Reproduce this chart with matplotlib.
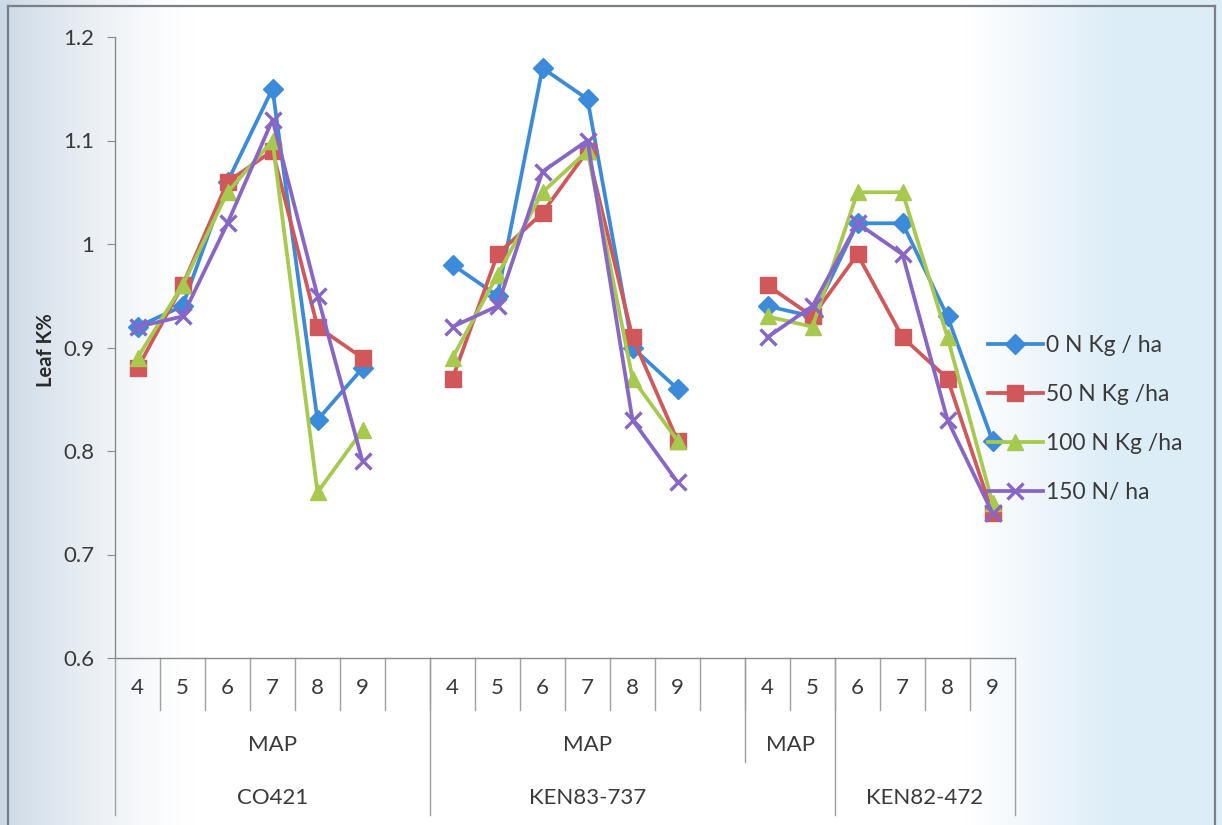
import numpy as np
import matplotlib
matplotlib.use("Agg")
import matplotlib.pyplot as plt
from matplotlib.lines import Line2D
from matplotlib.transforms import blended_transform_factory

plt.rcParams['font.family'] = ['Lato', 'DejaVu Sans']

# ---- data ---------------------------------------------------------------
months = ["4", "5", "6", "7", "8", "9"]
genotypes = ["CO421", "KEN83-737", "KEN82-472"]

n0 = {"CO421": [0.92, 0.94, 1.06, 1.15, 0.83, 0.88],
      "KEN83-737": [0.98, 0.95, 1.17, 1.14, 0.90, 0.86],
      "KEN82-472": [0.94, 0.93, 1.02, 1.02, 0.93, 0.81]}
n50 = {"CO421": [0.88, 0.96, 1.06, 1.09, 0.92, 0.89],
       "KEN83-737": [0.87, 0.99, 1.03, 1.09, 0.91, 0.81],
       "KEN82-472": [0.96, 0.93, 0.99, 0.91, 0.87, 0.74]}
n100 = {"CO421": [0.89, 0.96, 1.05, 1.10, 0.76, 0.82],
        "KEN83-737": [0.89, 0.97, 1.05, 1.09, 0.87, 0.81],
        "KEN82-472": [0.93, 0.92, 1.05, 1.05, 0.91, 0.75]}
n150 = {"CO421": [0.92, 0.93, 1.02, 1.12, 0.95, 0.79],
        "KEN83-737": [0.92, 0.94, 1.07, 1.10, 0.83, 0.77],
        "KEN82-472": [0.91, 0.94, 1.02, 0.99, 0.83, 0.74]}

series_labels = ["0 N Kg / ha", "50 N Kg /ha", "100 N Kg /ha", "150 N/ ha"]
series_data = [n0, n50, n100, n150]
colors = ["#3C8BDA", "#D0585A", "#A6C94E", "#8766C6"]
markers = ["D", "s", "^", "x"]
msizes = [10, 12, 12, 12]

yticks = [0.6, 0.7, 0.8, 0.9, 1.0, 1.1, 1.2]
ytick_labels = ["0.6", "0.7", "0.8", "0.9", "1", "1.1", "1.2"]


# categories: each genotype followed by an empty slot (except the last)
def flatten(d):
    out = []
    for i, g in enumerate(genotypes):
        out.extend(d[g])
        if i < len(genotypes) - 1:
            out.append(np.nan)
    return np.array(out, dtype=float)


cat_labels = []
for i, g in enumerate(genotypes):
    cat_labels.extend(months)
    if i < len(genotypes) - 1:
        cat_labels.append("")
x = np.arange(len(cat_labels))

# ---- figure -------------------------------------------------------------
W, H = 1222, 825
fig = plt.figure(figsize=(W / 100, H / 100), dpi=100)
TXT = "#3A3A3A"
FS = 16

# page tint of the scanned sheet
bg = fig.add_axes([0, 0, 1, 1], zorder=-10)
cols = np.linspace(0, 1, W)
left_c = np.array([0.80, 0.85, 0.90])
right_c = np.array([0.87, 0.93, 0.97])
white = np.array([1.0, 1.0, 1.0])
wl = np.clip(1 - cols / 0.16, 0, 1) ** 1.4
wr = np.clip((cols - 0.79) / 0.12, 0, 1)
img = (white[None, :] * (1 - wl - wr)[:, None]
       + left_c[None, :] * wl[:, None] + right_c[None, :] * wr[:, None])
img = np.repeat(img[None, :, :], 10, axis=0)
bg.imshow(img, aspect="auto", extent=[0, 1, 0, 1])
bg.set_xlim(0, 1)
bg.set_ylim(0, 1)
bg.axis("off")

# outer chart frame
for xs, ys in [([8 / W, 8 / W], [0, 1 - 6 / H]),
               ([8 / W, 1215 / W], [1 - 6 / H, 1 - 6 / H]),
               ([1215 / W, 1215 / W], [0, 1 - 6 / H])]:
    fig.add_artist(Line2D(xs, ys, color="#7A7F86", lw=1.6))

ax_left, ax_right = 115 / W, 1015 / W
ax_top, ax_bot = 1 - 37 / H, 1 - 658 / H
ax = fig.add_axes([ax_left, ax_bot, ax_right - ax_left, ax_top - ax_bot])
ax.patch.set_alpha(0)

for d, lab, c, m, ms in zip(series_data, series_labels, colors, markers, msizes):
    y = flatten(d)
    ax.plot(x, y, color=c, lw=2.7, marker=m, ms=ms,
            mew=2.4 if m == "x" else 1, mec=c, mfc=c, label=lab)

ax.set_xlim(-0.5, len(x) - 0.5)
ax.set_ylim(0.6, 1.2)
ax.set_yticks(yticks)
ax.set_yticklabels(ytick_labels, fontsize=FS, color=TXT)
ax.tick_params(axis="y", direction="out", length=6, color="#8A8A8A", pad=9)
ax.set_xticks([])
for s in ["top", "right"]:
    ax.spines[s].set_visible(False)
ax.spines["left"].set_color("#8A8A8A")
ax.spines["bottom"].set_color("#8A8A8A")
ax.spines["left"].set_linewidth(1.0)
ax.spines["bottom"].set_linewidth(1.0)

# ---- multi-level category axis -----------------------------------------
tr = blended_transform_factory(ax.transData, fig.transFigure)


def fy(px):
    return 1 - px / H


sep_kw = dict(color="#A0A0A0", lw=1.0, transform=tr, clip_on=False)

# row 1: month labels with separators at every boundary
for xi, lab in zip(x, cat_labels):
    if lab:
        ax.text(xi, fy(688), lab, transform=tr, ha="center", va="center",
                fontsize=FS, color=TXT)
for b in np.arange(0.5, len(x) - 1, 1.0):
    ax.add_line(Line2D([b, b], [fy(658), fy(710)], **sep_kw))

# row 2: "MAP" labels
map_spans = [(-0.5, 6.5), (6.5, 13.5), (13.5, 15.5)]
for a, b in map_spans:
    ax.text((a + b) / 2, fy(745), "MAP", transform=tr, ha="center",
            va="center", fontsize=FS, color=TXT)
ax.add_line(Line2D([13.5, 13.5], [fy(658), fy(762)], **sep_kw))

# row 3: genotype labels
geno_spans = [(-0.5, 6.5), (6.5, 13.5), (15.5, 19.5)]
for (a, b), g in zip(geno_spans, genotypes):
    ax.text((a + b) / 2, fy(798), g, transform=tr, ha="center",
            va="center", fontsize=FS, color=TXT)
for b in [-0.5, 6.5, 15.5, 19.5]:
    ax.add_line(Line2D([b, b], [fy(658), fy(815)], **sep_kw))

# y axis title
fig.text(46 / W, fy(350), "Leaf K%", rotation=90, ha="center", va="center",
         fontsize=14.5, fontweight="bold", color="#2A2A2A")

# legend
leg = fig.legend(loc="upper left", bbox_to_anchor=(988 / W, fy(335)),
                 frameon=False, fontsize=16.5, handlelength=2.4,
                 handletextpad=0.15, labelspacing=1.22, borderpad=0,
                 borderaxespad=0)
for t in leg.get_texts():
    t.set_color(TXT)

fig.savefig("out.png", dpi=100)
